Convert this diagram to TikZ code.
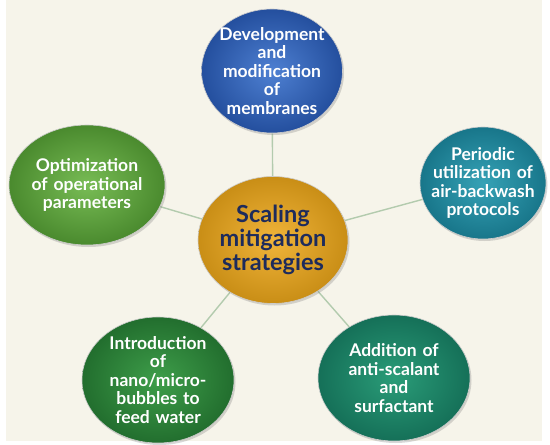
\documentclass[tikz,border=0pt]{standalone}
\usepackage{fontspec}
\setmainfont{Lato}
\usetikzlibrary{shapes.geometric,shadows,backgrounds}
\definecolor{paper}{HTML}{F6F4EA}
\definecolor{linkc}{HTML}{B3CBAE}
\definecolor{navy}{HTML}{1D2B5C}
\definecolor{devin}{HTML}{4E80D2}\definecolor{devout}{HTML}{244F9E}
\definecolor{optin}{HTML}{78BC55}\definecolor{optout}{HTML}{4A8A2E}
\definecolor{perin}{HTML}{36A2B6}\definecolor{perout}{HTML}{18768A}
\definecolor{nanoin}{HTML}{3E9E4A}\definecolor{nanoout}{HTML}{226E2E}
\definecolor{addin}{HTML}{2A9C78}\definecolor{addout}{HTML}{157058}
\definecolor{scin}{HTML}{F0B43A}\definecolor{scout}{HTML}{C98E16}
\begin{document}
\begin{tikzpicture}[x=1pt,y=-1pt,
        blob/.style={ellipse,draw=black!20,line width=0.6pt,inner sep=-30pt,text width=130pt,align=center,
          text=white,font=\fontsize{17.5}{18.5}\selectfont\bfseries,
          drop shadow={shadow xshift=1.5pt,shadow yshift=-2pt,opacity=0.3}},
        link/.style={draw=linkc,line width=1.4pt}
      ]
      \useasboundingbox (0,0) rectangle (550,445);
      \node[blob,minimum width=141pt,minimum height=124pt,inner color=devin,outer color=devout] (dev) at (272,71) {Development\\and\\modification\\of\\membranes};
      \node[blob,minimum width=156pt,minimum height=120pt,inner color=optin,outer color=optout] (opt) at (87,185) {Optimization\\of operational\\parameters};
      \node[blob,minimum width=126pt,minimum height=112pt,inner color=perin,outer color=perout] (per) at (483,183) {Periodic\\utilization of\\air-backwash\\protocols};
      \node[blob,minimum width=152pt,minimum height=126pt,inner color=nanoin,outer color=nanoout] (nano) at (158,380) {Introduction\\of\\nano/micro-\\bubbles to\\feed water};
      \node[blob,minimum width=152pt,minimum height=126pt,inner color=addin,outer color=addout] (add) at (394,378) {Addition of\\anti-scalant\\and\\surfactant};
      \node[blob,minimum width=150pt,minimum height=127pt,inner color=scin,outer color=scout,text=navy,font=\fontsize{23.5}{24}\selectfont\bfseries] (sc) at (273,240) {Scaling\\mitigation\\strategies};
      \begin{scope}[on background layer]
        \fill[white] (0,0) rectangle (550,445);
        \fill[paper] (6,0) rectangle (542,441);
        \draw[link] (sc) -- (dev);
        \draw[link] (sc) -- (opt);
        \draw[link] (sc) -- (per);
        \draw[link] (sc) -- (nano);
        \draw[link] (sc) -- (add);
      \end{scope}
    \end{tikzpicture}
\end{document}
